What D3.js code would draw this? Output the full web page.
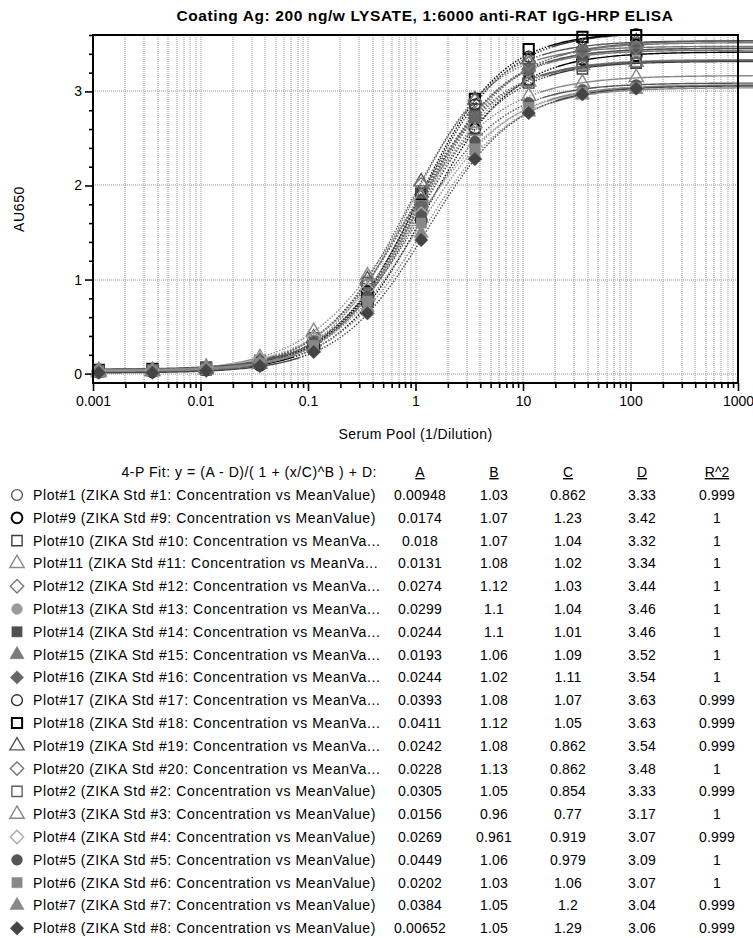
<!DOCTYPE html>
<html>
<head>
<meta charset="utf-8">
<script src="https://cdn.jsdelivr.net/npm/d3@7"></script>
<style>
  body { margin: 0; background: #fff; }
  svg text { font-family: "Liberation Sans", Arial, sans-serif; fill: #000; }
</style>
</head>
<body>
<script>
'use strict';

// x positions of the standards (1/dilution)
const conc = [0.00113, 0.00357, 0.0113, 0.0357, 0.113, 0.357, 1.13, 3.57, 11.3, 35.7, 113];

// legend order
const labels = [
  "Plot#1 (ZIKA Std #1: Concentration vs MeanValue)",
  "Plot#9 (ZIKA Std #9: Concentration vs MeanValue)",
  "Plot#10 (ZIKA Std #10: Concentration vs MeanVa...",
  "Plot#11 (ZIKA Std #11: Concentration vs MeanVa...",
  "Plot#12 (ZIKA Std #12: Concentration vs MeanVa...",
  "Plot#13 (ZIKA Std #13: Concentration vs MeanVa...",
  "Plot#14 (ZIKA Std #14: Concentration vs MeanVa...",
  "Plot#15 (ZIKA Std #15: Concentration vs MeanVa...",
  "Plot#16 (ZIKA Std #16: Concentration vs MeanVa...",
  "Plot#17 (ZIKA Std #17: Concentration vs MeanVa...",
  "Plot#18 (ZIKA Std #18: Concentration vs MeanVa...",
  "Plot#19 (ZIKA Std #19: Concentration vs MeanVa...",
  "Plot#20 (ZIKA Std #20: Concentration vs MeanVa...",
  "Plot#2 (ZIKA Std #2: Concentration vs MeanValue)",
  "Plot#3 (ZIKA Std #3: Concentration vs MeanValue)",
  "Plot#4 (ZIKA Std #4: Concentration vs MeanValue)",
  "Plot#5 (ZIKA Std #5: Concentration vs MeanValue)",
  "Plot#6 (ZIKA Std #6: Concentration vs MeanValue)",
  "Plot#7 (ZIKA Std #7: Concentration vs MeanValue)",
  "Plot#8 (ZIKA Std #8: Concentration vs MeanValue)"
];

const shapes = ["circle", "circle", "square", "triangle", "diamond", "circle", "square", "triangle", "diamond", "circle",
                "square", "triangle", "diamond", "square", "triangle", "diamond", "circle", "square", "triangle", "diamond"];
const filled = [false, false, false, false, false, true, true, true, true, false,
                false, false, false, false, false, false, true, true, true, true];
const colors = ["#5a5a5a", "#000", "#3c3c3c", "#8a8a8a", "#777", "#9a9a9a", "#505050", "#7a7a7a", "#666", "#303030",
                "#000", "#555", "#777", "#606060", "#888", "#aaa", "#555", "#888", "#888", "#444"];

// 4-P fit parameters
const paramA = [0.00948, 0.0174, 0.018, 0.0131, 0.0274, 0.0299, 0.0244, 0.0193, 0.0244, 0.0393,
                0.0411, 0.0242, 0.0228, 0.0305, 0.0156, 0.0269, 0.0449, 0.0202, 0.0384, 0.00652];
const paramB = [1.03, 1.07, 1.07, 1.08, 1.12, 1.1, 1.1, 1.06, 1.02, 1.08,
                1.12, 1.08, 1.13, 1.05, 0.96, 0.961, 1.06, 1.03, 1.05, 1.05];
const paramC = [0.862, 1.23, 1.04, 1.02, 1.03, 1.04, 1.01, 1.09, 1.11, 1.07,
                1.05, 0.862, 0.862, 0.854, 0.77, 0.919, 0.979, 1.06, 1.2, 1.29];
const paramD = [3.33, 3.42, 3.32, 3.34, 3.44, 3.46, 3.46, 3.52, 3.54, 3.63,
                3.63, 3.54, 3.48, 3.33, 3.17, 3.07, 3.09, 3.07, 3.04, 3.06];
const rSquared = [0.999, 1, 1, 1, 1, 1, 1, 1, 1, 0.999,
                  0.999, 0.999, 1, 0.999, 1, 0.999, 1, 1, 0.999, 0.999];

// mean AU650, one row per series (legend order)
const meanValues = [
  [0.01, 0.02, 0.05, 0.13, 0.38, 0.95, 1.90, 2.72, 3.10, 3.27, 3.30], // #1
  [0.02, 0.02, 0.04, 0.09, 0.26, 0.74, 1.63, 2.60, 3.12, 3.34, 3.38], // #9
  [0.02, 0.03, 0.04, 0.11, 0.30, 0.81, 1.75, 2.61, 3.09, 3.24, 3.30], // #10
  [0.01, 0.02, 0.04, 0.10, 0.30, 0.82, 1.77, 2.66, 3.10, 3.28, 3.31], // #11
  [0.03, 0.03, 0.05, 0.10, 0.29, 0.83, 1.82, 2.75, 3.23, 3.37, 3.43], // #12
  [0.03, 0.04, 0.05, 0.11, 0.31, 0.84, 1.82, 2.76, 3.22, 3.40, 3.43], // #13
  [0.02, 0.03, 0.05, 0.11, 0.31, 0.85, 1.85, 2.77, 3.24, 3.39, 3.45], // #14
  [0.02, 0.03, 0.05, 0.11, 0.31, 0.84, 1.80, 2.75, 3.25, 3.43, 3.50], // #15
  [0.03, 0.03, 0.06, 0.13, 0.34, 0.87, 1.79, 2.72, 3.24, 3.44, 3.51], // #16
  [0.04, 0.05, 0.07, 0.13, 0.33, 0.88, 1.89, 2.86, 3.37, 3.55, 3.61], // #17
  [0.04, 0.05, 0.06, 0.12, 0.31, 0.87, 1.91, 2.92, 3.45, 3.58, 3.60], // #18
  [0.03, 0.03, 0.06, 0.13, 0.38, 1.00, 2.04, 2.91, 3.34, 3.47, 3.53], // #19
  [0.02, 0.03, 0.05, 0.12, 0.34, 0.95, 2.01, 2.90, 3.30, 3.43, 3.47], // #20
  [0.03, 0.04, 0.07, 0.14, 0.38, 0.97, 1.92, 2.73, 3.12, 3.27, 3.31], // #2
  [0.02, 0.03, 0.07, 0.17, 0.45, 1.04, 1.88, 2.58, 2.95, 3.09, 3.15], // #3
  [0.03, 0.04, 0.07, 0.16, 0.38, 0.90, 1.70, 2.42, 2.82, 2.98, 3.04], // #4
  [0.05, 0.05, 0.07, 0.13, 0.33, 0.82, 1.68, 2.47, 2.88, 3.02, 3.07], // #5
  [0.02, 0.03, 0.05, 0.11, 0.30, 0.77, 1.60, 2.39, 2.83, 2.99, 3.04], // #6
  [0.04, 0.04, 0.06, 0.11, 0.27, 0.70, 1.49, 2.32, 2.78, 2.96, 3.02], // #7
  [0.01, 0.01, 0.03, 0.08, 0.23, 0.64, 1.42, 2.28, 2.77, 2.97, 3.03]  // #8
];

const yMajor = [0, 1, 2, 3];
const xDecades = [0.001, 0.01, 0.1, 1, 10, 100, 1000];
const colHeads = ["A", "B", "C", "D", "R^2"];

const title = "Coating Ag: 200 ng/w LYSATE, 1:6000 anti-RAT IgG-HRP ELISA";
const xTitle = "Serum Pool (1/Dilution)";
const yTitle = "AU650";
const fitText = "4-P Fit:  y = (A - D)/( 1 + (x/C)^B ) + D:";

window.onload = function() {
  let width = 753, height = 938;
  let plot = {left: 93, right: 738, top: 35, bottom: 383};

  let svg = d3.select("body").append("svg")
    .attr("width", width)
    .attr("height", height);

  svg.append("rect").attr("width", width).attr("height", height).attr("fill", "#fff");

  let x = d3.scaleLog().domain([0.001, 1000]).range([plot.left, plot.right]);
  let y = d3.scaleLinear().domain([-0.1, 3.6]).range([plot.bottom, plot.top]);

  // grid
  let grid = svg.append("g").attr("class", "grid")
    .attr("stroke", "#b8b8b8")
    .attr("stroke-width", 1.5)
    .attr("stroke-dasharray", "1,1");
  grid.selectAll(".vg")
    .data(x.ticks())
    .enter().append("line")
      .attr("x1", d => Math.round(x(d)))
      .attr("x2", d => Math.round(x(d)))
      .attr("y1", plot.top)
      .attr("y2", plot.bottom);
  grid.selectAll(".hg")
    .data(yMajor)
    .enter().append("line")
      .attr("x1", plot.left)
      .attr("x2", plot.right)
      .attr("y1", d => Math.round(y(d)))
      .attr("y2", d => Math.round(y(d)));

  // axes: minor ticks then major ticks with labels
  let xMinor = x.ticks().filter(d => xDecades.indexOf(d) < 0);
  let yMinor = d3.range(0.2, 3.61, 0.2).map(d => +d.toFixed(1)).filter(d => yMajor.indexOf(d) < 0);

  function styleAxis(g) {
    g.select(".domain").remove();
    g.selectAll(".tick line").attr("stroke", "#000").attr("stroke-width", 1.6);
    g.selectAll(".tick text")
      .style("font-size", "14px")
      .style("font-family", "'Liberation Sans', Arial, sans-serif");
  }

  svg.append("g")
    .attr("transform", "translate(0," + plot.bottom + ")")
    .call(d3.axisBottom(x).tickValues(xMinor).tickSize(5).tickFormat(""))
    .call(styleAxis);
  svg.append("g")
    .attr("transform", "translate(0," + plot.bottom + ")")
    .call(d3.axisBottom(x).tickValues(xDecades).tickSize(8).tickPadding(5).tickFormat(d3.format("~g")))
    .call(styleAxis);

  svg.append("g")
    .attr("transform", "translate(" + plot.left + ",0)")
    .call(d3.axisLeft(y).tickValues(yMinor).tickSize(4).tickFormat(""))
    .call(styleAxis);
  svg.append("g")
    .attr("transform", "translate(" + plot.left + ",0)")
    .call(d3.axisLeft(y).tickValues(yMajor).tickSize(8).tickPadding(3).tickFormat(d3.format("d")))
    .call(styleAxis);

  // fitted curves (clipped at top/bottom, they run off to the right)
  svg.append("clipPath").attr("id", "clip")
    .append("rect")
      .attr("x", plot.left)
      .attr("y", plot.top)
      .attr("width", width - plot.left)
      .attr("height", plot.bottom - plot.top);

  let xs = d3.range(-3, 3.2, 0.02).map(e => Math.pow(10, e));
  let line = d3.line()
    .x(d => x(d[0]))
    .y(d => y(d[1]));

  let curves = svg.append("g").attr("clip-path", "url(#clip)");
  labels.forEach(function(lab, i) {
    let pts = xs.map(function(v) {
      let t = Math.pow(v / paramC[i], paramB[i]);
      return [v, (paramA[i] - paramD[i]) / (1 + t) + paramD[i]];
    });
    // split into flat (solid) and steep (dotted) runs, like the original print
    let runs = [];
    let cur = null;
    for (let k = 1; k < pts.length; k++) {
      let dx = x(pts[k][0]) - x(pts[k - 1][0]);
      let dy = y(pts[k][1]) - y(pts[k - 1][1]);
      let steep = Math.abs(dy) > 0.32 * dx;
      if (!cur || cur.steep !== steep) {
        cur = {steep: steep, pts: [pts[k - 1]]};
        runs.push(cur);
      }
      cur.pts.push(pts[k]);
    }
    runs.forEach(function(r) {
      curves.append("path")
        .datum(r.pts)
        .attr("fill", "none")
        .attr("stroke", colors[i])
        .attr("stroke-width", r.steep ? 1.4 : 1.4)
        .attr("stroke-dasharray", r.steep ? "1.4,1.6" : null)
        .attr("d", line);
    });
  });

  // marker shapes
  let diamond = {
    draw: function(ctx, size) {
      let r = Math.sqrt(size / 2);
      ctx.moveTo(0, -r); ctx.lineTo(r, 0); ctx.lineTo(0, r); ctx.lineTo(-r, 0); ctx.closePath();
    }
  };
  let shapeTypes = {circle: d3.symbolCircle, square: d3.symbolSquare, triangle: d3.symbolTriangle, diamond: diamond};
  let shapeSizes = {circle: 92, square: 105, triangle: 88, diamond: 90};

  function marker(g, i) {
    g.append("path")
      .attr("d", d3.symbol().type(shapeTypes[shapes[i]]).size(shapeSizes[shapes[i]])())
      .attr("fill", filled[i] ? colors[i] : "#fff")
      .attr("fill-opacity", filled[i] ? 1 : 0)
      .attr("stroke", colors[i])
      .attr("stroke-width", filled[i] ? 0.5 : (colors[i] === "#000" ? 2 : 1.4));
  }

  labels.forEach(function(lab, i) {
    let g = svg.append("g");
    g.selectAll("g")
      .data(meanValues[i])
      .enter().append("g")
        .attr("transform", (d, j) => "translate(" + x(conc[j]) + "," + y(d) + ")")
        .each(function() { marker(d3.select(this), i); });
  });

  // frame
  svg.append("rect")
    .attr("x", plot.left)
    .attr("y", plot.top)
    .attr("width", plot.right - plot.left)
    .attr("height", plot.bottom - plot.top)
    .attr("fill", "none")
    .attr("stroke", "#000")
    .attr("stroke-width", 2);

  // titles
  svg.append("text")
    .attr("x", 425)
    .attr("y", 21)
    .attr("text-anchor", "middle")
    .style("font-size", "15.5px")
    .style("font-weight", "bold")
    .style("letter-spacing", "0.6px")
    .text(title);

  svg.append("text")
    .attr("x", (plot.left + plot.right) / 2)
    .attr("y", 439)
    .attr("text-anchor", "middle")
    .style("font-size", "14px")
    .style("letter-spacing", "0.4px")
    .text(xTitle);

  svg.append("text")
    .attr("transform", "translate(24," + ((plot.top + plot.bottom) / 2) + ")rotate(-90)")
    .attr("text-anchor", "middle")
    .style("font-size", "14px")
    .style("letter-spacing", "0.6px")
    .text(yTitle);

  // legend table
  let colX = [420, 494, 568, 642, 717];
  let rowY0 = 500, rowStep = 22.8;
  let fmt = d3.format(".3~g");

  svg.append("text")
    .attr("x", 377)
    .attr("y", rowY0 - 23)
    .attr("text-anchor", "end")
    .style("font-size", "14px")
    .style("letter-spacing", "0.55px")
    .text(fitText);

  svg.selectAll(".colhead")
    .data(colHeads)
    .enter().append("text")
      .attr("x", (d, i) => colX[i])
      .attr("y", rowY0 - 23)
      .attr("text-anchor", "middle")
      .style("font-size", "14px")
      .style("text-decoration", "underline")
      .text(d => d);

  labels.forEach(function(lab, i) {
    let by = rowY0 + i * rowStep;
    let g = svg.append("g").attr("transform", "translate(17," + (by - 5) + ")");
    marker(g, i);

    svg.append("text")
      .attr("x", 33)
      .attr("y", by)
      .style("font-size", "14px")
      .style("letter-spacing", "0.6px")
      .text(lab);

    let vals = [paramA[i], paramB[i], paramC[i], paramD[i], rSquared[i]];
    vals.forEach(function(v, k) {
      svg.append("text")
        .attr("x", colX[k])
        .attr("y", by)
        .attr("text-anchor", "middle")
        .style("font-size", "14px")
        .style("letter-spacing", "0.2px")
        .text(fmt(v));
    });
  });
};
</script>
</body>
</html>
